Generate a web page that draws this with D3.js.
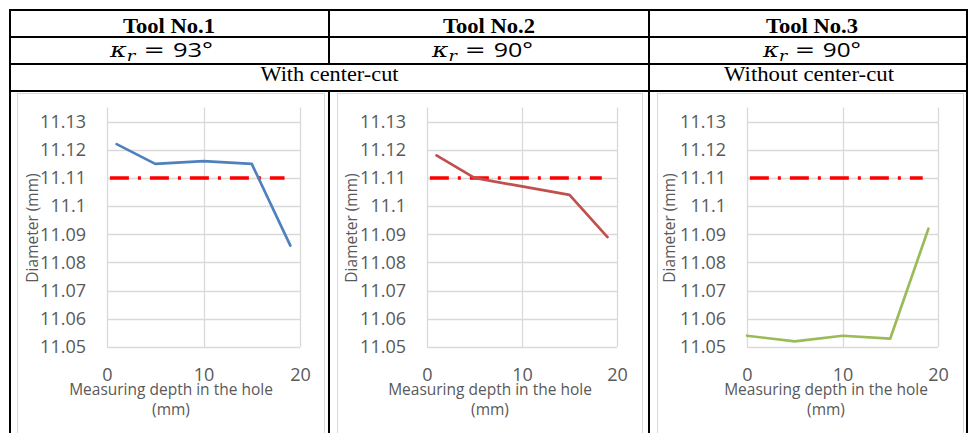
<!DOCTYPE html>
<html><head><meta charset="utf-8">
<script src="https://cdn.jsdelivr.net/npm/d3@7/dist/d3.min.js"></script>
<style>body{margin:0;background:#fff}svg{display:block}</style>
</head><body><svg id="c" width="968" height="433"></svg>
<script>
// ---- data ----
const toolNames = ["Tool No.1", "Tool No.2", "Tool No.3"];
const toolAngles = ["93°", "90°", "90°"];
const cutGroups = ["With center-cut", "Without center-cut"];
const depthTool1 = [1, 5, 10, 15, 19];
const diamTool1 = [11.122, 11.115, 11.116, 11.115, 11.086];
const depthTool2 = [1, 5, 10, 15, 19];
const diamTool2 = [11.118, 11.110, 11.107, 11.104, 11.089];
const depthTool3 = [0, 5, 10, 15, 19];
const diamTool3 = [11.054, 11.052, 11.054, 11.053, 11.092];
const nominalDepth = [0.3, 18.4];
const nominalDiam = [11.11, 11.11];
const yTicks = [11.05, 11.06, 11.07, 11.08, 11.09, 11.10, 11.11, 11.12, 11.13];
const xTicks = [0, 10, 20];
const xTitle = ["Measuring depth in the hole", "(mm)"];
const yTitle = "Diameter (mm)";

// ---- layout ----
const svg = d3.select("#c");
svg.append("rect").attr("width", 968).attr("height", 433).attr("fill", "#fff");
const seriesColors = ["#4F81BD", "#C0504D", "#9BBB59"];
const series = [
  depthTool1.map((d, i) => [d, diamTool1[i]]),
  depthTool2.map((d, i) => [d, diamTool2[i]]),
  depthTool3.map((d, i) => [d, diamTool3[i]])
];
const panels = [
  {box: [17, 324], x0: 107, x1: 300, yTitleX: 38, xTitleC: 171},
  {box: [337, 642], x0: 427, x1: 617, yTitleX: 357, xTitleC: 490},
  {box: [657, 963], x0: 747, x1: 938, yTitleX: 675, xTitleC: 826}
];
const gray = "#595959", grid = "#d9d9d9";
const chartFont = "'Open Sans', 'Noto Sans', sans-serif";
const serif = "'Liberation Serif', 'Times New Roman', serif";

panels.forEach((p, k) => {
  const g = svg.append("g");
  g.append("rect").attr("x", p.box[0] + 0.5).attr("y", 93.5)
    .attr("width", p.box[1] - p.box[0]).attr("height", 360)
    .attr("fill", "#fff").attr("stroke", grid);
  const x = d3.scaleLinear().domain([0, 20]).range([p.x0, p.x1]);
  const y = d3.scaleLinear().domain([11.05, 11.135]).range([347, 107.5]);
  // gridlines
  g.append("g").selectAll("line").data(yTicks).join("line")
    .attr("x1", p.x0).attr("x2", p.x1)
    .attr("y1", d => Math.round(y(d)) + 0.5).attr("y2", d => Math.round(y(d)) + 0.5)
    .attr("stroke", grid).attr("stroke-width", 1.3);
  g.append("g").selectAll("line").data(xTicks).join("line")
    .attr("x1", d => Math.round(x(d)) + 0.5).attr("x2", d => Math.round(x(d)) + 0.5)
    .attr("y1", y(11.135)).attr("y2", y(11.05))
    .attr("stroke", grid).attr("stroke-width", 1.3);
  // axes
  const ya = g.append("g").attr("transform", `translate(${p.x0},0)`)
    .call(d3.axisLeft(y).tickValues(yTicks).tickSize(0).tickPadding(21)
      .tickFormat(d => String(+d.toFixed(2))));
  const xa = g.append("g").attr("transform", `translate(0,${y(11.05)})`)
    .call(d3.axisBottom(x).tickValues(xTicks).tickSize(0).tickPadding(21));
  [ya, xa].forEach(a => {
    a.select(".domain").remove();
    a.selectAll("text").attr("fill", gray).style("font-family", chartFont).style("font-size", "18px");
  });
  // titles
  g.append("text").attr("transform", `translate(${p.yTitleX},228) rotate(-90)`)
    .attr("text-anchor", "middle").attr("fill", gray)
    .style("font-family", chartFont).style("font-size", "15.5px").text(yTitle);
  g.append("text").attr("x", p.xTitleC).attr("y", 395).attr("text-anchor", "middle")
    .attr("fill", gray).style("font-family", chartFont).style("font-size", "15.5px").text(xTitle[0]);
  g.append("text").attr("x", p.xTitleC).attr("y", 415).attr("text-anchor", "middle")
    .attr("fill", gray).style("font-family", chartFont).style("font-size", "15.5px").text(xTitle[1]);
  // nominal line
  const line = d3.line().x(d => x(d[0])).y(d => y(d[1]));
  g.append("path").datum(nominalDepth.map((d, i) => [d, nominalDiam[i]]))
    .attr("d", line).attr("fill", "none").attr("stroke", "#FF0000")
    .attr("stroke-width", 3.6).attr("stroke-dasharray", "19,9,3,9");
  // data series
  g.append("path").datum(series[k]).attr("d", line).attr("fill", "none")
    .attr("stroke", seriesColors[k]).attr("stroke-width", 2.7)
    .attr("stroke-linejoin", "round").attr("stroke-linecap", "round");
});

// ---- table ----
const T = svg.append("g");
const colX = [10, 329, 649, 967];
const rowY = [10, 37, 64, 91];
const cellC = [169, 489, 812];
toolNames.forEach((t, i) => {
  T.append("text").attr("x", cellC[i]).attr("y", 32.5).attr("text-anchor", "middle")
    .style("font-family", serif).style("font-weight", "bold").style("font-size", "21px")
    .attr("textLength", 92).attr("lengthAdjust", "spacingAndGlyphs").text(t);
});
const angC = [161.5, 482.5, 812];
const angW = [103, 101, 98];
toolAngles.forEach((a, i) => {
  const tx = T.append("text").attr("x", angC[i]).attr("y", 57).attr("text-anchor", "middle")
    .style("font-size", "20px")
    .attr("textLength", angW[i]).attr("lengthAdjust", "spacingAndGlyphs");
  tx.append("tspan").style("font-family", "'DejaVu Serif', serif").style("font-style", "italic").text("κ");
  tx.append("tspan").attr("dy", 4).style("font-family", "'DejaVu Serif', serif").style("font-style", "italic")
    .style("font-size", "14px").text("r");
  tx.append("tspan").attr("dy", -4).style("font-family", "'DejaVu Serif', serif").text(" = ");
  tx.append("tspan").style("font-family", "'Open Sans', sans-serif").text(a);
});
T.append("text").attr("x", 329.5).attr("y", 81).attr("text-anchor", "middle")
  .style("font-family", serif).style("font-size", "21px")
  .attr("textLength", 138).attr("lengthAdjust", "spacingAndGlyphs").text(cutGroups[0]);
T.append("text").attr("x", 809).attr("y", 81).attr("text-anchor", "middle")
  .style("font-family", serif).style("font-size", "21px")
  .attr("textLength", 170).attr("lengthAdjust", "spacingAndGlyphs").text(cutGroups[1]);
const lines = [];
rowY.forEach(yy => lines.push([colX[0], yy, colX[3], yy]));
lines.push([colX[0], rowY[0], colX[0], 440]);
lines.push([colX[3], rowY[0], colX[3], 440]);
lines.push([colX[2], rowY[0], colX[2], 440]);
lines.push([colX[1], rowY[0], colX[1], rowY[2]]);
lines.push([colX[1], rowY[3], colX[1], 440]);
T.append("g").selectAll("line").data(lines).join("line")
  .attr("x1", d => d[0]).attr("y1", d => d[1]).attr("x2", d => d[2]).attr("y2", d => d[3])
  .attr("stroke", "#000").attr("stroke-width", 2).attr("stroke-linecap", "square");
</script></body></html>
